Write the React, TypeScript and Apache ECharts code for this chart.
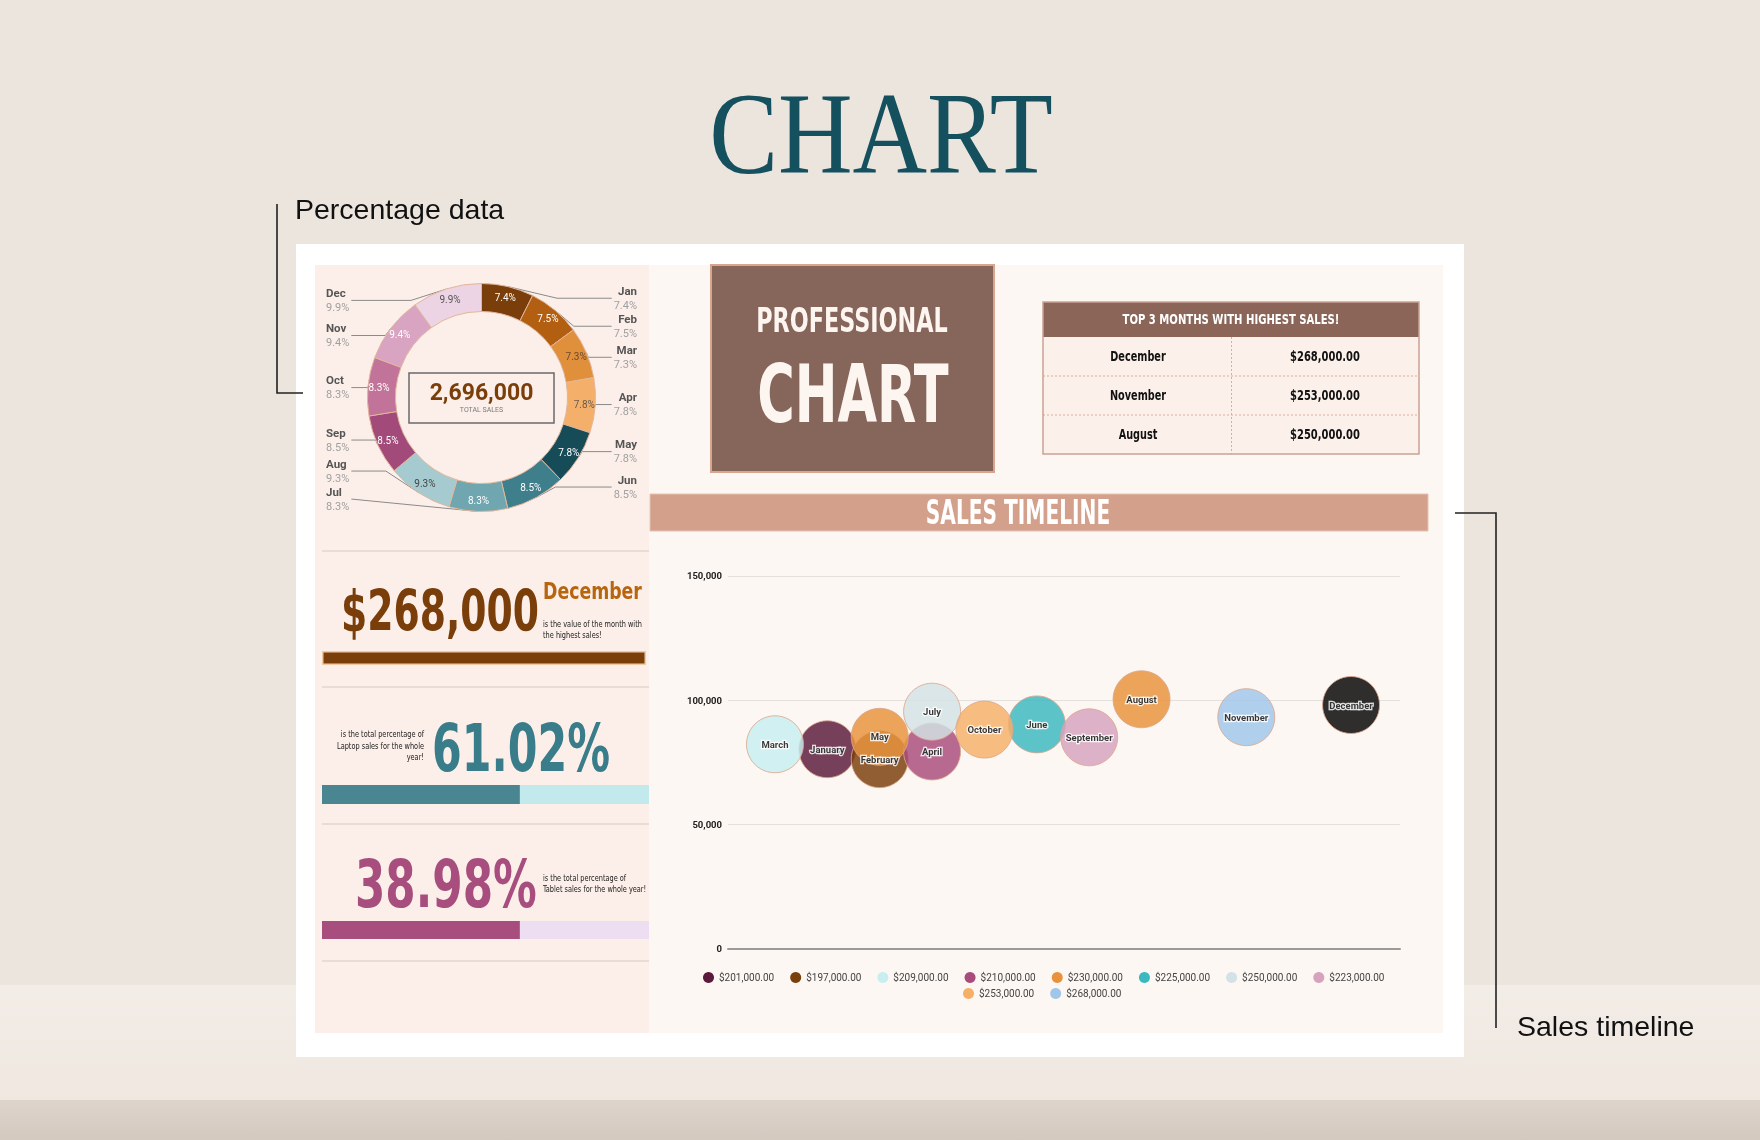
import React, { useEffect, useRef } from 'react';
import * as echarts from 'echarts';

// ---------- data ----------
const monthsShort = ['Jan', 'Feb', 'Mar', 'Apr', 'May', 'Jun', 'Jul', 'Aug', 'Sep', 'Oct', 'Nov', 'Dec'];
const monthPct = [7.4, 7.5, 7.3, 7.8, 7.8, 8.5, 8.3, 9.3, 8.5, 8.3, 9.4, 9.9];
const donutColors = ['#7a3e0b', '#b25f12', '#e08f3a', '#f4b06a', '#164c57', '#3f7f8c', '#6fa6af', '#a5cbd0', '#a24a7a', '#c27399', '#d9a3c2', '#ecd4e4'];
const donutLabelColors = ['#ffffff', '#ffffff', '#6b4a30', '#6b5a4a', '#ffffff', '#ffffff', '#ffffff', '#444444', '#ffffff', '#ffffff', '#ffffff', '#555555'];
const totalSales = '2,696,000';

const topMonths = ['December', 'November', 'August'];
const topValues = ['$268,000.00', '$253,000.00', '$250,000.00'];

const kpiValues = ['$268,000', '61.02%', '38.98%'];
const progressValues = [100, 60.5, 60.5];

const bubbleMonths = ['January', 'February', 'March', 'April', 'May', 'June', 'July', 'August', 'September', 'October', 'November', 'December'];
const bubbleX = [2, 3, 1, 4, 3, 6, 4, 8, 7, 5, 10, 12];
const bubbleY = [80200, 76200, 82200, 79300, 85200, 90200, 95300, 100300, 85000, 88100, 93100, 98000];
const bubbleGroup = ['$201,000.00', '$197,000.00', '$209,000.00', '$210,000.00', '$230,000.00', '$225,000.00', '$250,000.00', '$230,000.00', '$223,000.00', '$253,000.00', '$268,000.00', 'other'];
const legendNames = ['$201,000.00', '$197,000.00', '$209,000.00', '$210,000.00', '$230,000.00', '$225,000.00', '$250,000.00', '$223,000.00', '$253,000.00', '$268,000.00'];
const legendColors = ['#5a1a3c', '#7b3f0c', '#c8eef0', '#a84c7c', '#e8933c', '#3bb8c0', '#d2e2e6', '#d6a2be', '#f5b068', '#a0c6ea'];
const otherColor = '#050505';
const yTicks = [0, 50000, 100000, 150000];

// ---------- styling helpers ----------
const ROBOTO = 'Roboto, "Liberation Sans", sans-serif';
const NARROW = '"DejaVu Sans Condensed", "Liberation Sans Narrow", sans-serif';
const SERIF = '"Liberation Serif", "DejaVu Serif", serif';
const ARIAL = '"Liberation Sans", Arial, sans-serif';
// per-slice label-line length tweaks (styling only)
const labelLenTweak: Record<string, number> = { Jul: -24, Aug: -26 };

function T(x: number, y: number, text: string, size: number, color: string, o: any = {}) {
  const al = o.a || 'left';
  return {
    type: 'text',
    x,
    y,
    scaleX: o.sx || 1,
    z: o.z ?? 5,
    style: {
      text,
      fill: color,
      font: `${o.w || 'normal'} ${size}px ${o.f || ROBOTO}`,
      textAlign: al,
      align: al,
      textVerticalAlign: 'middle',
      verticalAlign: 'middle',
    },
  };
}
function R(x: number, y: number, w: number, h: number, fill: any, o: any = {}) {
  return {
    type: 'rect',
    z: o.z ?? 1,
    shape: { x, y, width: w, height: h },
    style: { fill, stroke: o.stroke || null, lineWidth: o.lw || 0, lineDash: o.dash },
  };
}
function L(pts: number[][], color: string, lw: number, o: any = {}) {
  return {
    type: 'polyline',
    z: o.z ?? 2,
    shape: { points: pts },
    style: { stroke: color, lineWidth: lw, fill: null, lineDash: o.dash },
  };
}

function buildOption() {
  const G: any[] = [];
  // page background
  G.push(R(0, 0, 1760, 1140, '#ebe5de', { z: 0 }));
  G.push(R(0, 985, 1760, 115, new echarts.graphic.LinearGradient(0, 0, 0, 1, [
    { offset: 0, color: '#f3ede7' }, { offset: 1, color: '#efe7e0' }]), { z: 0 }));
  G.push(R(0, 1100, 1760, 40, new echarts.graphic.LinearGradient(0, 0, 0, 1, [
    { offset: 0, color: '#ddd4cb' }, { offset: 1, color: '#d3c9bf' }]), { z: 0 }));

  // title and annotations
  G.push(T(881, 134, 'CHART', 116, '#15505e', { a: 'center', f: SERIF, sx: 0.89, z: 1 }));
  G.push(T(295, 209, 'Percentage data', 28.5, '#111111', { f: ARIAL, z: 1 }));
  G.push(L([[277, 204], [277, 393], [303, 393]], '#222222', 1.6, { z: 1 }));
  G.push(T(1517, 1026, 'Sales timeline', 28.5, '#111111', { f: ARIAL, z: 1 }));
  G.push(L([[1455, 513], [1496, 513], [1496, 1028]], '#222222', 1.6, { z: 1 }));

  // card and panels
  G.push(R(296, 244, 1168, 813, '#ffffff', { z: 0 }));
  G.push(R(315, 265, 334, 768, '#fcefe9', { z: 1 }));
  G.push(R(649, 265, 794, 768, '#fdf7f3', { z: 1 }));

  // left panel separators
  [551, 687, 824, 961].forEach((y) => G.push(L([[322, y], [649, y]], '#e9dcd5', 2, { z: 2 })));

  // donut centre
  G.push(R(409, 373, 145, 50, null, { stroke: '#6a6a6a', lw: 1.5, z: 4 }));
  G.push(T(481.5, 392, totalSales, 23, '#7a3e0b', { a: 'center', w: 'bold' }));
  G.push(T(481.5, 410, 'TOTAL SALES', 7, '#7a7a7a', { a: 'center' }));

  // KPI 1
  G.push(T(341, 612, kpiValues[0], 57, '#7a3e0b', { w: 'bold', f: NARROW, sx: 0.735 }));
  G.push(T(543, 591, 'December', 23.5, '#b8650f', { w: 'bold', f: NARROW, sx: 0.82 }));
  G.push(T(543, 624, 'is the value of the month with', 9.5, '#1a1a1a', { f: NARROW, sx: 0.77 }));
  G.push(T(543, 635, 'the highest sales!', 9.5, '#1a1a1a', { f: NARROW, sx: 0.77 }));
  // KPI 2
  G.push(T(424, 734, 'is the total percentage of', 9.5, '#1a1a1a', { f: NARROW, sx: 0.77, a: 'right' }));
  G.push(T(424, 745.3, 'Laptop sales for the whole', 9.5, '#1a1a1a', { f: NARROW, sx: 0.77, a: 'right' }));
  G.push(T(424, 756.5, 'year!', 9.5, '#1a1a1a', { f: NARROW, sx: 0.77, a: 'right' }));
  G.push(T(432, 749, kpiValues[1], 66, '#3a7d8a', { w: 'bold', f: NARROW, sx: 0.72 }));
  // KPI 3
  G.push(T(355, 884, kpiValues[2], 66, '#a84e7e', { w: 'bold', f: NARROW, sx: 0.735 }));
  G.push(T(543, 878, 'is the total percentage of', 9.5, '#1a1a1a', { f: NARROW, sx: 0.77 }));
  G.push(T(543, 889, 'Tablet sales for the whole year!', 9.5, '#1a1a1a', { f: NARROW, sx: 0.77 }));

  // professional chart box
  G.push(R(711, 265, 283, 207, '#86655a', { stroke: '#d8a58e', lw: 2, z: 2 }));
  G.push(T(852, 320, 'PROFESSIONAL', 34, '#fdf5f0', { a: 'center', w: 'bold', f: NARROW, sx: 0.73 }));
  G.push(T(853, 394, 'CHART', 80, '#fdf5f0', { a: 'center', w: 'bold', f: NARROW, sx: 0.71 }));

  // top 3 table
  const tx = 1043, tw = 376, ty = 302, th = 35, rh = 39;
  G.push(R(tx, ty, tw, th, '#8a6558', { z: 2 }));
  G.push(T(tx + tw / 2, ty + th / 2, 'TOP 3 MONTHS WITH HIGHEST SALES!', 14, '#ffffff', { a: 'center', w: 'bold', f: NARROW, sx: 0.8 }));
  G.push(R(tx, ty + th, tw, rh * 3, '#fcf0ea', { z: 2 }));
  topMonths.forEach((m, i) => {
    const cy = ty + th + rh * i + rh / 2;
    if (i > 0) G.push(L([[tx, ty + th + rh * i], [tx + tw, ty + th + rh * i]], '#e2aa98', 1, { dash: [2, 2], z: 3 }));
    G.push(T(1138, cy, m, 13.5, '#111111', { a: 'center', w: 'bold', f: NARROW, sx: 0.8 }));
    G.push(T(1325, cy, topValues[i], 13.5, '#111111', { a: 'center', w: 'bold', f: NARROW, sx: 0.82 }));
  });
  G.push(L([[1231.5, ty + th], [1231.5, ty + th + rh * 3]], '#e2aa98', 1, { dash: [2, 2], z: 3 }));
  G.push(R(tx, ty, tw, th + rh * 3, null, { stroke: '#c8a394', lw: 1.5, z: 3 }));

  // sales timeline band
  G.push(R(650, 494, 778, 37, '#d3a08b', { stroke: '#e6c2b2', lw: 1, z: 2 }));
  G.push(T(1018, 512.5, 'SALES TIMELINE', 33, '#ffffff', { a: 'center', w: 'bold', f: NARROW, sx: 0.68 }));

  // ---------- series ----------
  const donutData = monthsShort.map((m, i) => ({
    name: m,
    value: monthPct[i],
    itemStyle: { color: donutColors[i] },
    labelLine: labelLenTweak[m] !== undefined ? { length: labelLenTweak[m] } : undefined,
  }));
  const pieBox = { left: 322, top: 270, width: 319, height: 260, center: [159.5, 127.5], radius: [86, 114], startAngle: 90 };

  const series: any[] = [
    {
      type: 'pie',
      ...pieBox,
      z: 3,
      silent: true,
      data: donutData,
      itemStyle: { borderColor: '#e2b69c', borderWidth: 1 },
      label: {
        show: true,
        position: 'outside',
        alignTo: 'edge',
        edgeDistance: 4,
        overflow: 'none',
        distanceToLabelLine: 2,
        formatter: '{n|{b}}\n{p|{c}%}',
        rich: {
          n: { fontSize: 11.5, fontWeight: 'bold', color: '#555555', fontFamily: ROBOTO, lineHeight: 14 },
          p: { fontSize: 11, color: '#a0a0a0', fontFamily: ROBOTO, lineHeight: 15 },
        },
      },
      labelLine: { show: true, length: -12, length2: 6, lineStyle: { color: '#8a8a8a', width: 1 } },
    },
    {
      type: 'pie',
      ...pieBox,
      z: 4,
      silent: true,
      data: monthsShort.map((m, i) => ({
        name: m,
        value: monthPct[i],
        itemStyle: { color: 'rgba(0,0,0,0)' },
        label: { color: donutLabelColors[i] },
      })),
      itemStyle: { borderWidth: 0 },
      label: { show: true, position: 'inside', formatter: '{c}%', fontSize: 10, fontFamily: ROBOTO },
      labelLine: { show: false },
    },
  ];

  // progress bars
  const barCfg = [
    { top: 651, h: 14, w: 324, color: '#7a3e0b', bg: 'rgba(0,0,0,0)', border: '#f2c9a5' },
    { top: 785, h: 19, w: 327, color: '#4a8692', bg: '#c2e9eb', border: null },
    { top: 921, h: 18, w: 327, color: '#a84e7e', bg: '#eddff1', border: null },
  ];
  const grids: any[] = [{ left: 728, right: 360, top: 575.8, bottom: 191.5 }];
  const xAxes: any[] = [{
    type: 'value', gridIndex: 0, min: 0.103, max: 12.935, z: 3,
    axisLabel: { show: false }, axisTick: { show: false }, splitLine: { show: false },
    axisLine: { show: true, lineStyle: { color: '#9a9a9a', width: 2 } },
  }];
  const yAxes: any[] = [{
    type: 'value', gridIndex: 0, min: yTicks[0], max: yTicks[yTicks.length - 1], interval: yTicks[1] - yTicks[0], z: 2,
    axisLine: { show: false }, axisTick: { show: false },
    axisLabel: { fontSize: 9.5, fontWeight: 'bold', color: '#222222', fontFamily: ROBOTO, margin: 6,
      formatter: (v: number) => v.toLocaleString('en-US') },
    splitLine: { lineStyle: { color: '#e4e0dd', width: 1 } },
  }];
  barCfg.forEach((b, i) => {
    grids.push({ left: 322, top: b.top, width: b.w, height: b.h });
    xAxes.push({ type: 'value', gridIndex: i + 1, min: 0, max: 100, show: false });
    yAxes.push({ type: 'category', gridIndex: i + 1, data: ['v'], show: false });
    series.push({
      type: 'bar', xAxisIndex: i + 1, yAxisIndex: i + 1, z: 3, silent: true,
      data: [progressValues[i]], barWidth: '100%',
      showBackground: true, backgroundStyle: { color: b.bg },
      itemStyle: { color: b.color, borderColor: b.border || b.color, borderWidth: b.border ? 1.5 : 0 },
    });
  });

  // bubbles
  const groups = [...legendNames, 'other'];
  groups.forEach((g, gi) => {
    const idx = bubbleGroup.map((bg, i) => (bg === g ? i : -1)).filter((i) => i >= 0);
    series.push({
      type: 'scatter',
      name: g,
      xAxisIndex: 0,
      yAxisIndex: 0,
      z: 5,
      symbol: 'circle',
      symbolSize: 57,
      data: idx.map((i) => ({ value: [bubbleX[i], bubbleY[i]], name: bubbleMonths[i] })),
      itemStyle: { color: gi < legendColors.length ? legendColors[gi] : otherColor, opacity: 0.83, borderColor: '#dba78e', borderWidth: 1 },
      label: {
        show: true, position: 'inside', formatter: '{b}', fontSize: 9.5, fontWeight: 'bold', fontFamily: ROBOTO,
        color: '#111111', textBorderColor: '#ffffff', textBorderWidth: 2.5,
      },
    });
  });

  const legendBase = {
    icon: 'circle', itemWidth: 11, itemHeight: 11, itemGap: 16,
    textStyle: { fontSize: 10, color: '#444444', fontFamily: ROBOTO },
    itemStyle: { borderWidth: 0, opacity: 1 },
    selectedMode: false,
    orient: 'horizontal',
  };

  return {
    animation: false,
    backgroundColor: 'transparent',
    graphic: { elements: G },
    grid: grids,
    xAxis: xAxes,
    yAxis: yAxes,
    legend: [
      { ...legendBase, left: 698, top: 967, data: legendNames.slice(0, 8) },
      { ...legendBase, left: 958, top: 983, data: legendNames.slice(8) },
    ],
    series,
  };
}

export default function App() {
  const ref = useRef<HTMLDivElement>(null);
  useEffect(() => {
    document.body.style.margin = '0';
    const chart = echarts.init(ref.current as HTMLDivElement, null, { renderer: 'svg' });
    chart.setOption(buildOption() as any);
    return () => chart.dispose();
  }, []);
  return <div ref={ref} style={{ position: 'fixed', left: 0, top: 0, width: 1760, height: 1140 }} />;
}
